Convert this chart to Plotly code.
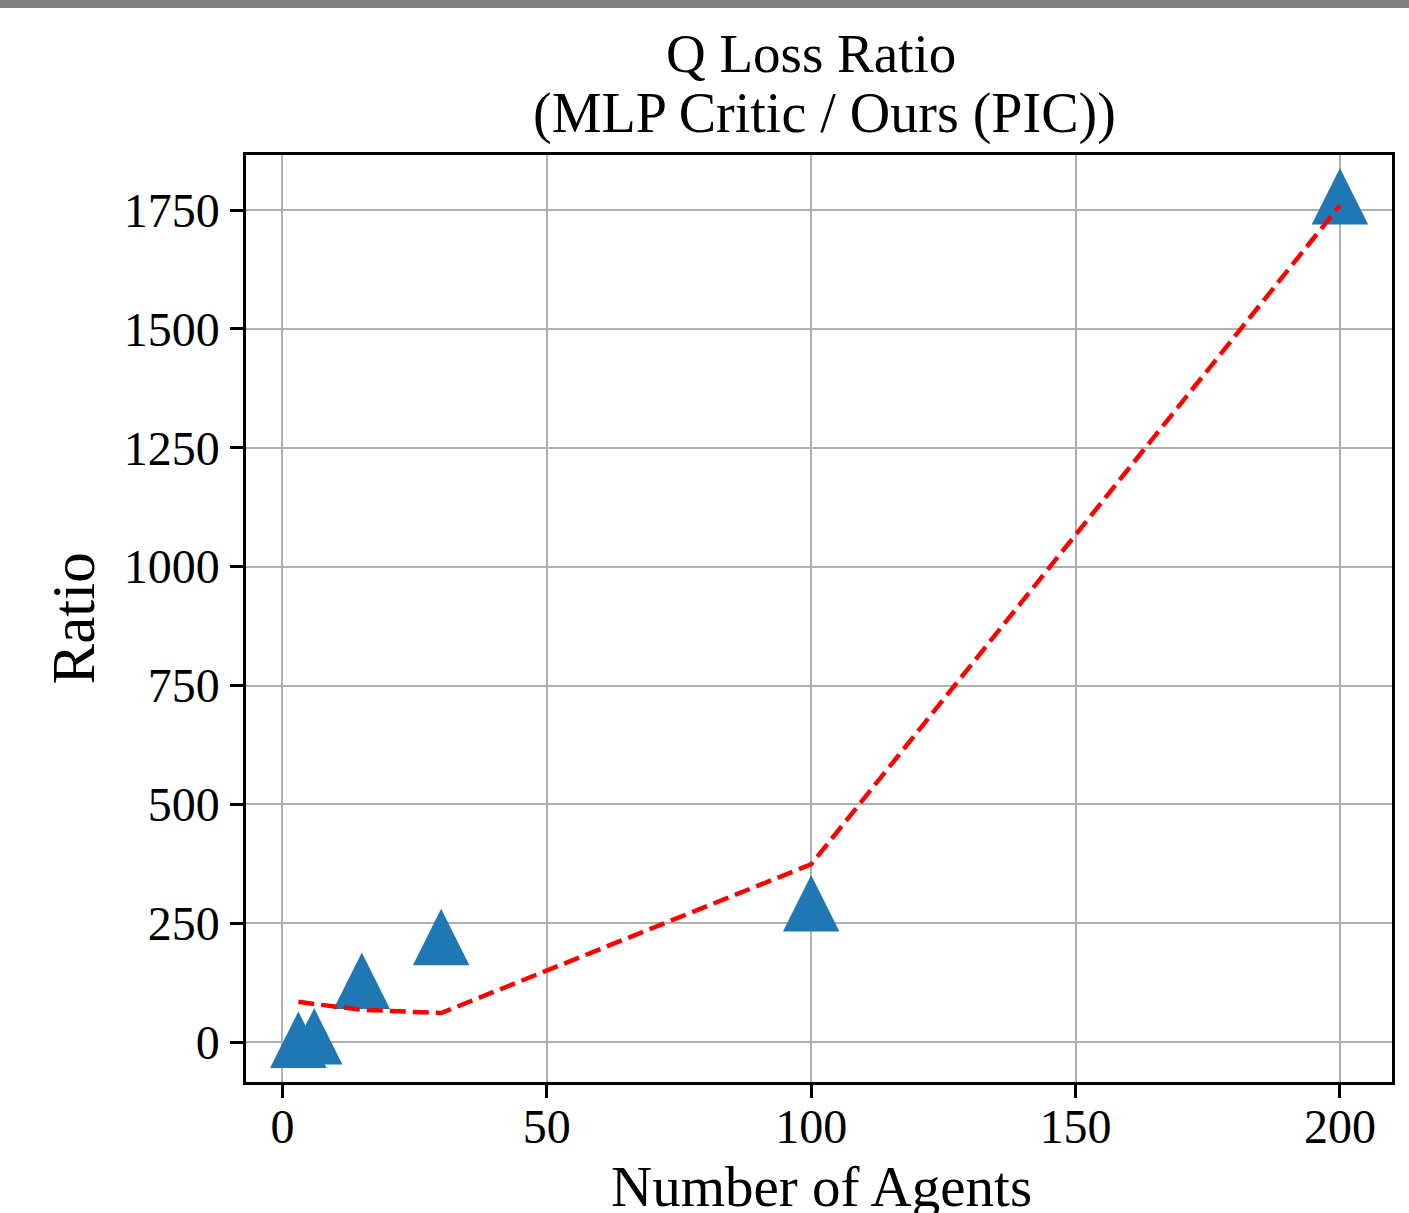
import plotly.graph_objects as go

# ---- data ----
agents = [3, 6, 15, 30, 100, 200]
ratio = [5, 12, 129, 221, 292, 1779]
trend = [85, 80, 68, 61, 374, 1760]
x_ticks = [0, 50, 100, 150, 200]
y_ticks = [0, 250, 500, 750, 1000, 1250, 1500, 1750]

W, H = 1409, 1213
L, R, T, B = 246, 17, 155, 131
PW, PH = W - L - R, H - T - B

def py(p):  # pixel y -> paper y
    return (H - B - p) / PH

def px(p):  # pixel x -> paper x
    return (p - L) / PW

FONT = "Liberation Serif, Times New Roman, serif"
MS = 56.5

fig = go.Figure()
fig.add_trace(go.Scatter(
    x=agents, y=ratio, mode="markers",
    marker=dict(symbol="arrow-down", angle=180, standoff=MS / 2, size=MS,
                color="#1f77b4", line=dict(width=0)),
    showlegend=False, cliponaxis=False,
))
fig.add_trace(go.Scatter(
    x=agents, y=trend, mode="lines",
    line=dict(color="red", width=4.5, dash="16px,7px"),
    showlegend=False,
))

axis_common = dict(
    showgrid=True, gridcolor="#b0b0b0", gridwidth=2,
    showline=True, linecolor="black", linewidth=2.5, mirror=True,
    ticks="outside", ticklen=13, tickwidth=2.5, tickcolor="black",
    tickfont=dict(family=FONT, size=48, color="black"),
    zeroline=False,
)
fig.update_xaxes(range=[-6.9, 209.85], tickvals=x_ticks, ticklabelstandoff=-12, **axis_common)
fig.update_yaxes(range=[-84, 1866], tickvals=y_ticks, ticklabelstandoff=1, **axis_common)

annotations = [
    dict(text="Q Loss Ratio", x=px(811), y=py(53.5), xref="paper", yref="paper",
         xanchor="center", yanchor="middle", showarrow=False,
         font=dict(family=FONT, size=55, color="black")),
    dict(text="(MLP Critic / Ours (PIC))", x=px(825), y=py(113.5), xref="paper", yref="paper",
         xanchor="center", yanchor="middle", showarrow=False,
         font=dict(family=FONT, size=56, color="black")),
    dict(text="Number of Agents", x=px(821), y=py(1186), xref="paper", yref="paper",
         xanchor="center", yanchor="middle", showarrow=False,
         font=dict(family=FONT, size=57, color="black")),
    dict(text="Ratio", x=px(73), y=0.5, xref="paper", yref="paper",
         xanchor="center", yanchor="middle", showarrow=False, textangle=-90,
         font=dict(family=FONT, size=61, color="black")),
]

fig.update_layout(
    width=W, height=H,
    margin=dict(l=L, r=R, t=T, b=B, pad=0),
    plot_bgcolor="white", paper_bgcolor="white",
    annotations=annotations,
    shapes=[dict(type="rect", xref="paper", yref="paper",
                 x0=px(0), x1=px(W), y0=py(8), y1=py(0),
                 fillcolor="#808080", line=dict(width=0), layer="above")],
)

fig.write_html("out.html")
